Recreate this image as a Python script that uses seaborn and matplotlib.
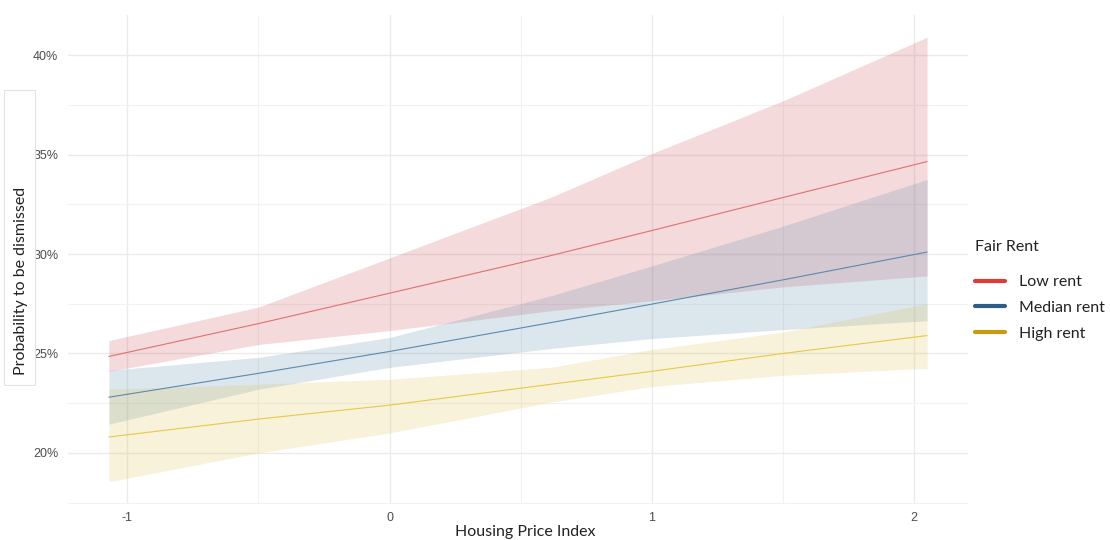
import numpy as np
import pandas as pd
import matplotlib
matplotlib.use("Agg")
import matplotlib.pyplot as plt
from matplotlib.lines import Line2D
from matplotlib.patches import Rectangle
from matplotlib.ticker import MultipleLocator, FuncFormatter
import seaborn as sns

# ---- data (percent) ----
x = [-1.07, -0.5, 0.0, 0.615, 1.0, 1.5, 2.05]
low_fit = [24.85, 26.5, 28.03, 29.92, 31.18, 32.84, 34.65]
low_lo = [24.1, 25.45, 26.15, 27.15, 27.65, 28.35, 28.9]
low_hi = [25.65, 27.33, 29.8, 32.85, 35.05, 37.7, 40.9]
med_fit = [22.8, 24.0, 25.1, 26.55, 27.48, 28.7, 30.1]
med_lo = [21.45, 23.2, 24.3, 25.25, 25.75, 26.2, 26.65]
med_hi = [24.15, 24.8, 25.8, 27.9, 29.4, 31.4, 33.75]
high_fit = [20.8, 21.7, 22.4, 23.45, 24.1, 25.0, 25.9]
high_lo = [18.55, 20.0, 21.0, 22.55, 23.34, 23.9, 24.26]
high_hi = [23.2, 23.45, 23.7, 24.3, 25.2, 26.07, 27.5]

groups = ["Low rent", "Median rent", "High rent"]
x_ticks = [-1, 0, 1, 2]
y_ticks = [20, 25, 30, 35, 40]

legend_colors = {"Low rent": "#E03A36", "Median rent": "#2F5D88", "High rent": "#C99A10"}
line_colors = {"Low rent": "#E07070", "Median rent": "#5A8AB0", "High rent": "#E6C94A"}
fill_colors = {"Low rent": "#CD4650", "Median rent": "#5082A5", "High rent": "#D7BE41"}

fits = {"Low rent": low_fit, "Median rent": med_fit, "High rent": high_fit}
los = {"Low rent": low_lo, "Median rent": med_lo, "High rent": high_lo}
his = {"Low rent": low_hi, "Median rent": med_hi, "High rent": high_hi}

df = pd.concat([
    pd.DataFrame({"x": x, "fit": fits[g], "lo": los[g], "hi": his[g], "rent": g})
    for g in groups
], ignore_index=True)

sns.set_theme(style="white")
plt.rcParams["font.family"] = ["Lato", "DejaVu Sans"]

W, H = 1110, 540
fig = plt.figure(figsize=(W / 100, H / 100), dpi=100)
ax = fig.add_axes([68 / W, 36 / H, 900 / W, 489 / H])

for g in groups:
    sub = df[df["rent"] == g]
    ax.fill_between(sub["x"], sub["lo"], sub["hi"], color=fill_colors[g],
                    alpha=0.2, linewidth=0, zorder=2)

sns.lineplot(data=df, x="x", y="fit", hue="rent", palette=line_colors,
             hue_order=groups, legend=False, linewidth=0.8, ax=ax, zorder=3)

ax.set_xlim(-1.226, 2.206)
ax.set_ylim(17.43, 42.02)
ax.set_xticks(x_ticks)
ax.set_yticks(y_ticks)
ax.xaxis.set_minor_locator(MultipleLocator(0.5))
ax.yaxis.set_minor_locator(MultipleLocator(2.5))
ax.yaxis.set_major_formatter(FuncFormatter(lambda v, p: f"{v:.0f}%"))
ax.xaxis.set_major_formatter(FuncFormatter(lambda v, p: f"{v:.0f}"))
ax.grid(True, which="major", color="#EBEBEB", linewidth=1.0, zorder=0)
ax.grid(True, which="minor", color="#F2F2F2", linewidth=0.8, zorder=0)
ax.set_axisbelow(True)
for s in ax.spines.values():
    s.set_visible(False)
ax.tick_params(axis="both", which="both", length=0)
ax.tick_params(axis="y", labelsize=9, labelcolor="#4D4D4D", pad=7)
ax.tick_params(axis="x", labelsize=9, labelcolor="#4D4D4D", pad=6)
for t in ax.get_yticklabels() + ax.get_xticklabels():
    t.set_family(["Liberation Sans", "DejaVu Sans"])
ax.set_xlabel("")
ax.set_ylabel("")

fig.text(525 / W, 1 - 532 / H, "Housing Price Index", ha="center", va="center",
         fontsize=11.5, color="#222222")

# boxed y-axis title
fig.patches.append(Rectangle((4 / W, 1 - 385 / H), 31 / W, 295 / H,
                             transform=fig.transFigure, facecolor="white",
                             edgecolor="#E2E2E2", linewidth=0.8, zorder=0))
fig.text(21 / W, 1 - 281 / H, "Probability to be dismissed", ha="center", va="center",
         rotation=90, fontsize=11.5, color="#222222")

# legend
fig.text(975 / W, 1 - 247 / H, "Fair Rent", ha="left", va="center",
         fontsize=11.5, color="#222222")
handles = [Line2D([0], [0], color=legend_colors[g], linewidth=3) for g in groups]
leg = fig.legend(handles, groups, loc="upper left",
                 bbox_to_anchor=(975 / W, 1 - 275 / H), frameon=False,
                 fontsize=11.5, handlelength=1.85, handletextpad=0.9,
                 labelspacing=0.72, borderpad=0, borderaxespad=0)
for t in leg.get_texts():
    t.set_color("#222222")

fig.savefig("out.png", dpi=100, facecolor="white")
